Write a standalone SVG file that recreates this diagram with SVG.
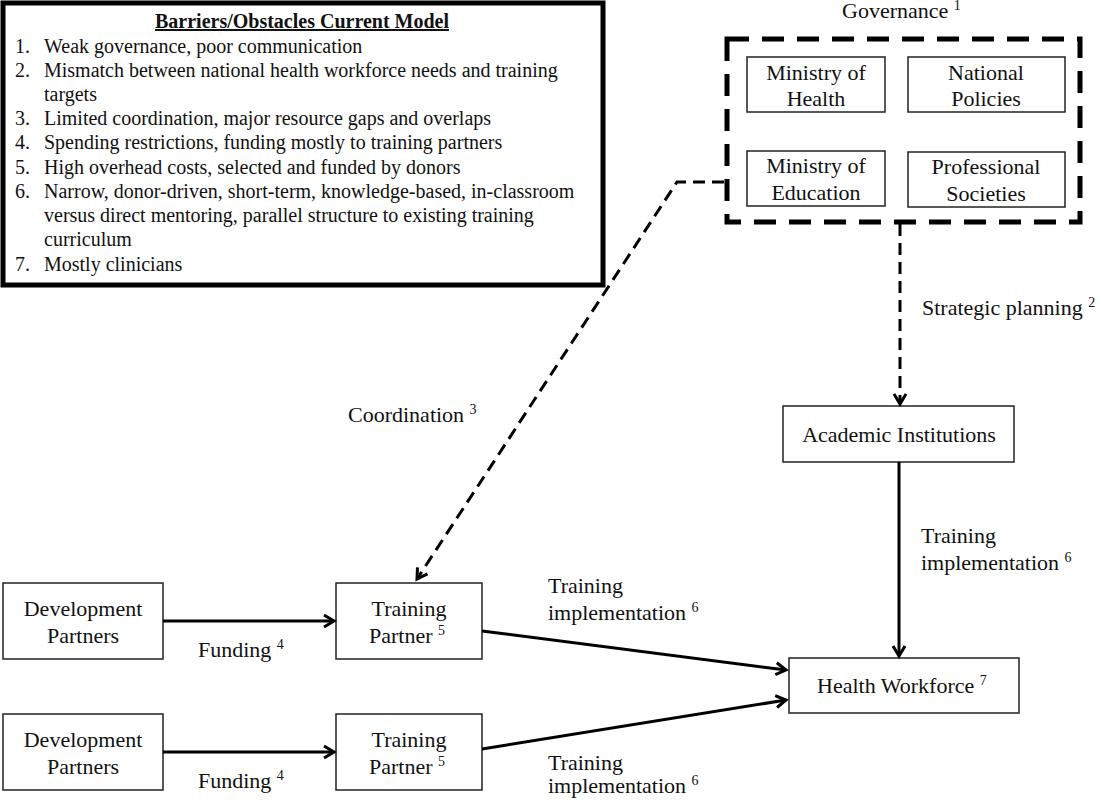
<svg xmlns="http://www.w3.org/2000/svg" width="1101" height="800" viewBox="0 0 1101 800">
<defs>
<style>
text{font-family:"Liberation Serif","Times New Roman",serif;fill:#111;}
.t{font-size:22px;}
.c{text-anchor:middle;}
.l{font-size:20px;}
.sup{font-size:14px;}
.box{fill:#fff;stroke:#222;stroke-width:1.5;}
.con{fill:none;stroke:#000;stroke-width:3;}
.dash{stroke-dasharray:12 7;}
</style>
<marker id="arr" markerUnits="userSpaceOnUse" markerWidth="16" markerHeight="16" refX="12" refY="8" orient="auto">
<path d="M2,2 L12,8 L2,14" fill="none" stroke="#000" stroke-width="3" stroke-linejoin="miter"/>
</marker>
</defs>
<rect width="1101" height="800" fill="#fff"/>

<g id="barriers">
<rect x="3" y="3" width="600" height="282" fill="#fff" stroke="#000" stroke-width="5"/>
<text x="155" y="28" font-size="20" font-weight="bold" text-decoration="underline">Barriers/Obstacles Current Model</text>
<g class="l">
<text x="15" y="53" class="l">1.</text><text x="44" y="53" class="l">Weak governance, poor communication</text>
<text x="15" y="77" class="l">2.</text><text x="44" y="77" class="l">Mismatch between national health workforce needs and training</text>
<text x="44" y="101" class="l">targets</text>
<text x="15" y="125" class="l">3.</text><text x="44" y="125" class="l">Limited coordination, major resource gaps and overlaps</text>
<text x="15" y="149" class="l">4.</text><text x="44" y="149" class="l">Spending restrictions, funding mostly to training partners</text>
<text x="15" y="174" class="l">5.</text><text x="44" y="174" class="l">High overhead costs, selected and funded by donors</text>
<text x="15" y="198" class="l">6.</text><text x="44" y="198" class="l">Narrow, donor-driven, short-term, knowledge-based, in-classroom</text>
<text x="44" y="222" class="l">versus direct mentoring, parallel structure to existing training</text>
<text x="44" y="246" class="l">curriculum</text>
<text x="15" y="271" class="l">7.</text><text x="44" y="271" class="l">Mostly clinicians</text>
</g>
</g>

<g id="governance">
<text x="842" y="18" class="t">Governance <tspan class="sup" dy="-8">1</tspan></text>
<rect x="727" y="39" width="353" height="183" fill="none" stroke="#000" stroke-width="5" stroke-dasharray="22 13"/>
</g>
<g id="ministry-health">
<rect class="box" x="747" y="57" width="138" height="55"/>
<text class="t c" x="816" y="80">Ministry of</text>
<text class="t c" x="816" y="106">Health</text>
</g>
<g id="national-policies">
<rect class="box" x="908" y="57" width="157" height="55"/>
<text class="t c" x="986" y="80">National</text>
<text class="t c" x="986" y="106">Policies</text>
</g>
<g id="ministry-education">
<rect class="box" x="747" y="151" width="138" height="55"/>
<text class="t c" x="816" y="173">Ministry of</text>
<text class="t c" x="816" y="200">Education</text>
</g>
<g id="professional-societies">
<rect class="box" x="908" y="152" width="157" height="55"/>
<text class="t c" x="986" y="174">Professional</text>
<text class="t c" x="986" y="201">Societies</text>
</g>

<g id="academic">
<rect class="box" x="783" y="406" width="231" height="56"/>
<text class="t c" x="899" y="442">Academic Institutions</text>
</g>
<g id="health-workforce">
<rect class="box" x="789" y="658" width="230" height="55"/>
<text class="t" x="817" y="693">Health Workforce <tspan class="sup" dy="-8">7</tspan></text>
</g>
<g id="dev-partners-1">
<rect class="box" x="3" y="583" width="160" height="76"/>
<text class="t c" x="83" y="616">Development</text>
<text class="t c" x="83" y="643">Partners</text>
</g>
<g id="dev-partners-2">
<rect class="box" x="3" y="714" width="160" height="76"/>
<text class="t c" x="83" y="747">Development</text>
<text class="t c" x="83" y="774">Partners</text>
</g>
<g id="training-partner-1">
<rect class="box" x="336" y="583" width="146" height="76"/>
<text class="t c" x="409" y="616">Training</text>
<text class="t" x="369" y="643">Partner <tspan class="sup" dy="-8">5</tspan></text>
</g>
<g id="training-partner-2">
<rect class="box" x="336" y="714" width="146" height="76"/>
<text class="t c" x="409" y="747">Training</text>
<text class="t" x="369" y="774">Partner <tspan class="sup" dy="-8">5</tspan></text>
</g>

<g id="connectors">
<path class="con dash" d="M724,182 L677,182 L417,579" marker-end="url(#arr)"/>
<path class="con dash" d="M900,224 L900,404" marker-end="url(#arr)"/>
<path class="con" d="M899,462 L899,656" stroke-width="4" marker-end="url(#arr)"/>
<path class="con" d="M163,621 L334,621" marker-end="url(#arr)"/>
<path class="con" d="M163,752 L334,752" marker-end="url(#arr)"/>
<path class="con" d="M482,631 L786,670" marker-end="url(#arr)"/>
<path class="con" d="M482,749 L786,700" marker-end="url(#arr)"/>
</g>

<g id="labels">
<text class="t" x="348" y="422">Coordination <tspan class="sup" dy="-8">3</tspan></text>
<text class="t" x="922" y="315">Strategic planning <tspan class="sup" dy="-8">2</tspan></text>
<text class="t" x="921" y="543">Training</text>
<text class="t" x="921" y="570">implementation <tspan class="sup" dy="-8">6</tspan></text>
<text class="t" x="548" y="593">Training</text>
<text class="t" x="548" y="620">implementation <tspan class="sup" dy="-8">6</tspan></text>
<text class="t" x="548" y="770">Training</text>
<text class="t" x="548" y="793">implementation <tspan class="sup" dy="-8">6</tspan></text>
<text class="t" x="198" y="657">Funding <tspan class="sup" dy="-8">4</tspan></text>
<text class="t" x="198" y="788">Funding <tspan class="sup" dy="-8">4</tspan></text>
</g>
</svg>
